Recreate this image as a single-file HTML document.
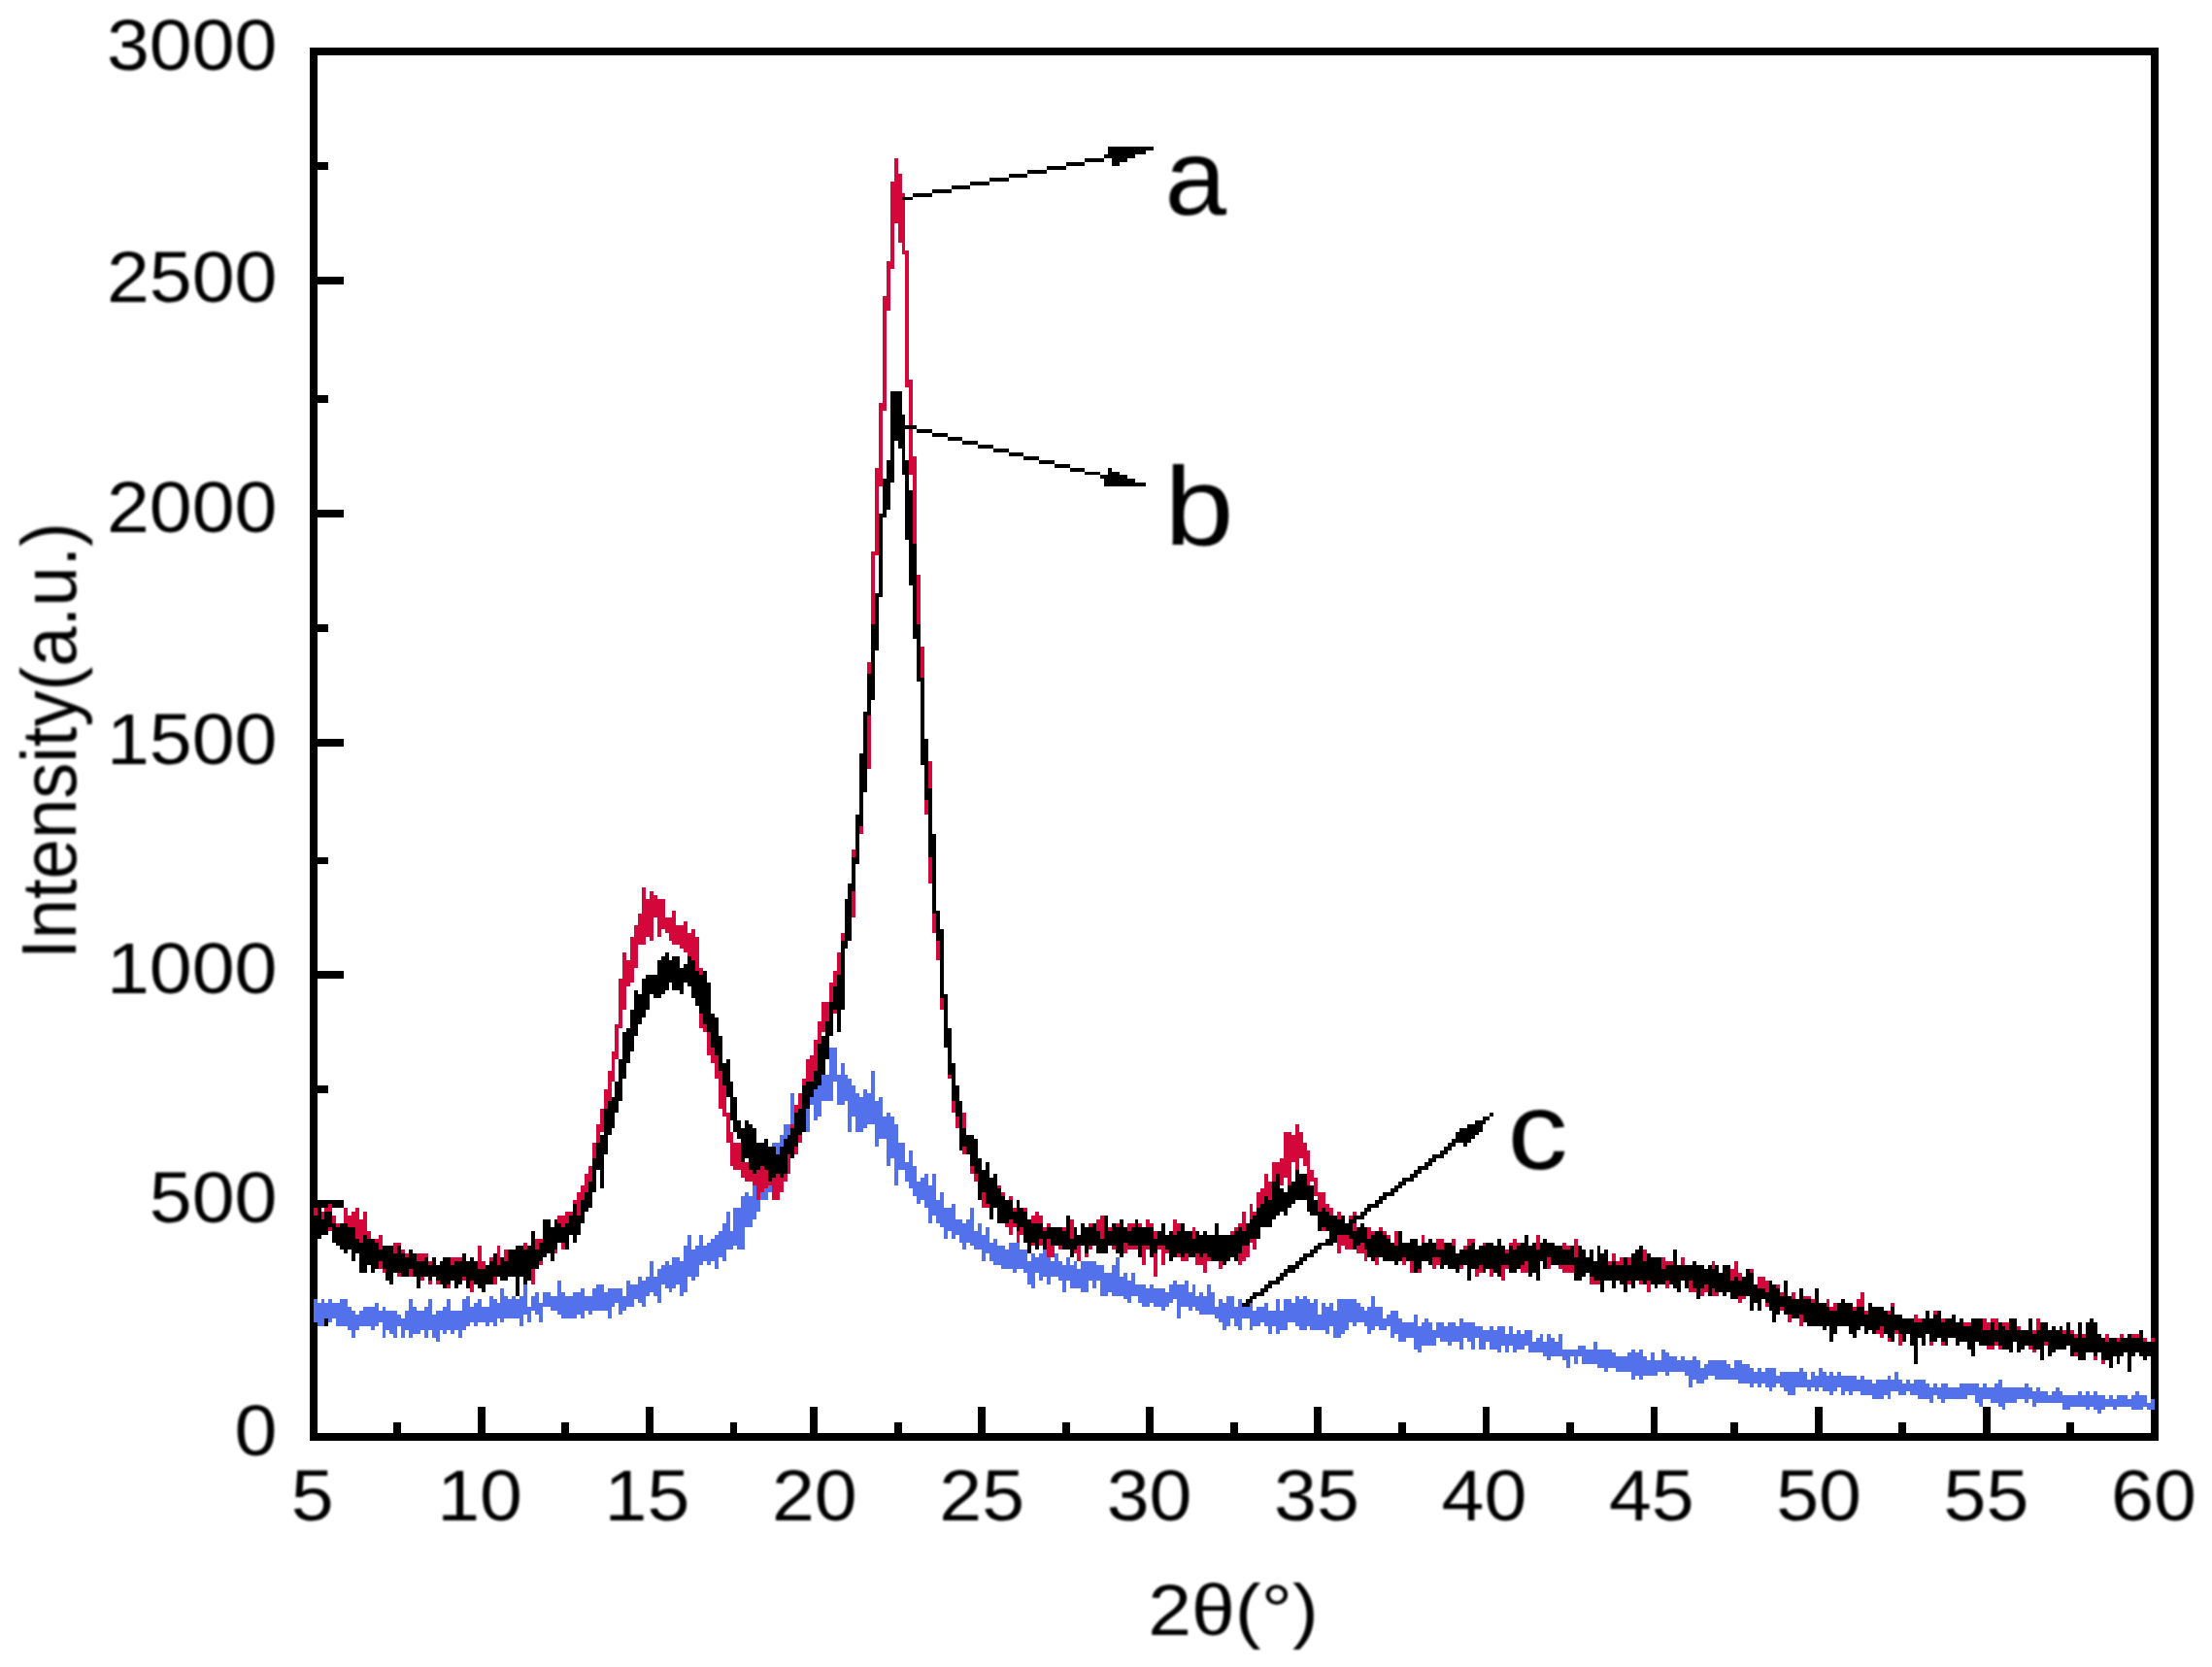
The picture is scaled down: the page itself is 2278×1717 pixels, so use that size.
<!DOCTYPE html>
<html lang="en"><head><meta charset="utf-8"><title>XRD patterns</title>
<style>
html,body{margin:0;padding:0;background:#fff;}
body{width:2278px;height:1717px;overflow:hidden;}
svg{display:block;}
</style></head><body>
<svg width="2278" height="1717" viewBox="0 0 2278 1717">
<defs><filter id="soft" x="-5%" y="-5%" width="110%" height="110%"><feGaussianBlur stdDeviation="0.8"/></filter></defs>
<rect width="2278" height="1717" fill="#fff"/>
<g shape-rendering="crispEdges">
<path d="M318.76 49.27H2222.8V1483.9H318.76Z M326.63 57.13V1476.04H2214.95V57.13Z" fill="#000" fill-rule="evenodd"/>
<path d="M405.31 1464.7h7.87V1480.0h-7.87zM491.86 1448.9h7.87V1480.0h-7.87zM578.41 1464.7h7.87V1480.0h-7.87zM664.96 1448.9h7.87V1480.0h-7.87zM751.50 1464.7h7.87V1480.0h-7.87zM834.12 1448.9h7.87V1480.0h-7.87zM920.67 1464.7h7.87V1480.0h-7.87zM1007.21 1448.9h7.87V1480.0h-7.87zM1093.76 1464.7h7.87V1480.0h-7.87zM1180.31 1448.9h7.87V1480.0h-7.87zM1266.86 1464.7h7.87V1480.0h-7.87zM1353.41 1448.9h7.87V1480.0h-7.87zM1439.95 1464.7h7.87V1480.0h-7.87zM1526.50 1448.9h7.87V1480.0h-7.87zM1613.05 1464.7h7.87V1480.0h-7.87zM1699.60 1448.9h7.87V1480.0h-7.87zM1782.21 1464.7h7.87V1480.0h-7.87zM1868.76 1448.9h7.87V1480.0h-7.87zM1955.31 1464.7h7.87V1480.0h-7.87zM2041.86 1448.9h7.87V1480.0h-7.87zM2128.40 1464.7h7.87V1480.0h-7.87zM322.7 1358.12H338.4v7.86H322.7zM322.7 1236.28H354.2v7.86H322.7zM322.7 1118.36H338.4v7.86H322.7zM322.7 1000.45H354.2v7.86H322.7zM322.7 882.53H338.4v7.86H322.7zM322.7 760.69H354.2v7.86H322.7zM322.7 642.77H338.4v7.86H322.7zM322.7 524.86H354.2v7.86H322.7zM322.7 406.94H338.4v7.86H322.7zM322.7 285.10H354.2v7.86H322.7zM322.7 167.18H338.4v7.86H322.7z" fill="#000"/>
<path d="M323 1338h4v24h-4zM327 1342h4v24h-4zM331 1338h3v28h-3zM334 1342h4v16h-4zM338 1338h4v24h-4zM342 1342h4v16h-4zM346 1342h4v24h-4zM350 1338h4v28h-4zM354 1338h4v28h-4zM358 1346h4v24h-4zM362 1350h4v28h-4zM366 1354h4v16h-4zM370 1350h4v16h-4zM374 1346h4v20h-4zM378 1346h4v20h-4zM382 1346h4v24h-4zM386 1342h4v24h-4zM390 1350h4v12h-4zM394 1346h3v32h-3zM397 1350h4v20h-4zM401 1350h4v24h-4zM405 1350h4v28h-4zM409 1354h4v12h-4zM413 1358h4v20h-4zM417 1350h4v20h-4zM421 1338h4v40h-4zM425 1346h4v28h-4zM429 1350h4v24h-4zM433 1350h4v20h-4zM437 1346h4v32h-4zM441 1338h4v32h-4zM445 1354h4v24h-4zM449 1350h4v32h-4zM453 1350h3v20h-3zM456 1346h4v28h-4zM460 1338h4v32h-4zM464 1350h4v24h-4zM468 1350h4v20h-4zM472 1350h4v28h-4zM476 1338h4v32h-4zM480 1335h4v31h-4zM484 1346h4v16h-4zM488 1342h4v24h-4zM492 1338h4v24h-4zM496 1346h4v16h-4zM500 1346h4v20h-4zM504 1335h4v27h-4zM508 1338h4v28h-4zM512 1342h3v16h-3zM515 1327h4v35h-4zM519 1335h4v23h-4zM523 1338h4v20h-4zM527 1335h4v23h-4zM531 1338h4v20h-4zM535 1335h4v31h-4zM539 1323h4v31h-4zM543 1346h4v16h-4zM547 1335h4v15h-4zM551 1331h4v23h-4zM555 1342h4v20h-4zM559 1331h4v15h-4zM563 1331h4v15h-4zM567 1335h4v15h-4zM571 1335h3v15h-3zM574 1319h4v35h-4zM578 1331h4v27h-4zM582 1335h4v23h-4zM586 1335h4v23h-4zM590 1331h4v27h-4zM594 1331h4v23h-4zM598 1327h4v31h-4zM602 1335h4v15h-4zM606 1335h4v19h-4zM610 1327h4v23h-4zM614 1323h4v27h-4zM618 1323h4v27h-4zM622 1331h4v19h-4zM626 1327h4v31h-4zM630 1327h3v19h-3zM633 1327h4v15h-4zM637 1327h4v27h-4zM641 1335h4v15h-4zM645 1319h4v27h-4zM649 1323h4v23h-4zM653 1323h4v15h-4zM657 1315h4v27h-4zM661 1319h4v27h-4zM665 1315h4v20h-4zM669 1299h4v32h-4zM673 1315h4v20h-4zM677 1307h4v35h-4zM681 1303h4v20h-4zM685 1299h4v28h-4zM689 1303h3v28h-3zM692 1295h4v32h-4zM696 1295h4v28h-4zM700 1299h4v36h-4zM704 1283h4v48h-4zM708 1272h4v43h-4zM712 1287h4v32h-4zM716 1283h4v32h-4zM720 1272h4v31h-4zM724 1283h4v16h-4zM728 1280h4v23h-4zM732 1276h4v23h-4zM736 1272h4v35h-4zM740 1268h4v27h-4zM744 1260h4v39h-4zM748 1248h4v39h-4zM752 1268h3v19h-3zM755 1244h4v39h-4zM759 1244h4v43h-4zM763 1232h4v55h-4zM767 1228h4v36h-4zM771 1232h4v32h-4zM775 1221h4v35h-4zM779 1209h4v39h-4zM783 1213h4v23h-4zM787 1209h4v27h-4zM791 1193h4v35h-4zM795 1177h4v32h-4zM799 1177h4v28h-4zM803 1169h4v32h-4zM807 1158h4v47h-4zM811 1158h3v19h-3zM814 1126h4v55h-4zM818 1138h4v39h-4zM822 1134h4v35h-4zM826 1126h4v40h-4zM830 1126h4v40h-4zM834 1114h4v24h-4zM838 1114h4v40h-4zM842 1114h4v36h-4zM846 1095h4v39h-4zM850 1107h4v27h-4zM854 1079h4v55h-4zM858 1079h4v35h-4zM862 1107h4v31h-4zM866 1095h4v43h-4zM870 1107h3v27h-3zM873 1111h4v55h-4zM877 1118h4v32h-4zM881 1126h4v40h-4zM885 1130h4v36h-4zM889 1122h4v40h-4zM893 1126h4v32h-4zM897 1103h4v55h-4zM901 1134h4v47h-4zM905 1130h4v43h-4zM909 1150h4v23h-4zM913 1146h4v55h-4zM917 1150h4v43h-4zM921 1158h4v63h-4zM925 1177h4v28h-4zM929 1177h3v28h-3zM932 1197h4v20h-4zM936 1185h4v39h-4zM940 1201h4v31h-4zM944 1217h4v23h-4zM948 1213h4v23h-4zM952 1209h4v35h-4zM956 1221h4v39h-4zM960 1209h4v43h-4zM964 1236h4v24h-4zM968 1228h4v36h-4zM972 1244h4v32h-4zM976 1244h4v24h-4zM980 1240h4v36h-4zM984 1256h4v16h-4zM988 1256h3v24h-3zM991 1260h4v27h-4zM995 1256h4v24h-4zM999 1244h4v39h-4zM1003 1268h4v19h-4zM1007 1260h4v27h-4zM1011 1272h4v27h-4zM1015 1264h4v27h-4zM1019 1280h4v19h-4zM1023 1276h4v27h-4zM1027 1283h4v20h-4zM1031 1283h4v24h-4zM1035 1287h4v20h-4zM1039 1280h4v27h-4zM1043 1280h4v31h-4zM1047 1280h3v27h-3zM1050 1287h4v20h-4zM1054 1287h4v24h-4zM1058 1299h4v24h-4zM1062 1291h4v36h-4zM1066 1295h4v16h-4zM1070 1291h4v28h-4zM1074 1287h4v28h-4zM1078 1287h4v36h-4zM1082 1299h4v16h-4zM1086 1291h4v24h-4zM1090 1299h4v20h-4zM1094 1303h4v28h-4zM1098 1295h4v24h-4zM1102 1303h4v24h-4zM1106 1299h3v28h-3zM1109 1307h4v20h-4zM1113 1299h4v32h-4zM1117 1299h4v32h-4zM1121 1299h4v20h-4zM1125 1299h4v28h-4zM1129 1303h4v16h-4zM1133 1303h4v32h-4zM1137 1311h4v24h-4zM1141 1311h4v20h-4zM1145 1303h4v32h-4zM1149 1295h4v40h-4zM1153 1315h4v20h-4zM1157 1311h4v27h-4zM1161 1319h4v23h-4zM1165 1311h4v24h-4zM1169 1323h3v12h-3zM1172 1323h4v19h-4zM1176 1323h4v23h-4zM1180 1327h4v19h-4zM1184 1323h4v19h-4zM1188 1327h4v19h-4zM1192 1327h4v19h-4zM1196 1327h4v23h-4zM1200 1331h4v15h-4zM1204 1323h4v19h-4zM1208 1319h4v19h-4zM1212 1323h4v35h-4zM1216 1323h4v23h-4zM1220 1319h4v27h-4zM1224 1331h4v19h-4zM1228 1323h3v23h-3zM1231 1335h4v15h-4zM1235 1331h4v23h-4zM1239 1335h4v19h-4zM1243 1323h4v31h-4zM1247 1331h4v23h-4zM1251 1346h4v12h-4zM1255 1338h4v24h-4zM1259 1342h4v28h-4zM1263 1335h4v31h-4zM1267 1335h4v23h-4zM1271 1346h4v20h-4zM1275 1338h4v32h-4zM1279 1342h4v16h-4zM1283 1338h4v20h-4zM1287 1342h3v28h-3zM1290 1350h4v16h-4zM1294 1346h4v20h-4zM1298 1346h4v16h-4zM1302 1342h4v24h-4zM1306 1350h4v24h-4zM1310 1350h4v16h-4zM1314 1338h4v36h-4zM1318 1350h4v20h-4zM1322 1338h4v32h-4zM1326 1338h4v24h-4zM1330 1342h4v20h-4zM1334 1335h4v31h-4zM1338 1338h4v32h-4zM1342 1335h4v35h-4zM1346 1338h3v28h-3zM1349 1342h4v28h-4zM1353 1338h4v32h-4zM1357 1354h4v16h-4zM1361 1342h4v28h-4zM1365 1346h4v28h-4zM1369 1342h4v24h-4zM1373 1350h4v28h-4zM1377 1338h4v40h-4zM1381 1338h4v36h-4zM1385 1338h4v32h-4zM1389 1338h4v24h-4zM1393 1338h4v28h-4zM1397 1342h4v20h-4zM1401 1346h4v16h-4zM1405 1350h3v16h-3zM1408 1346h4v28h-4zM1412 1335h4v35h-4zM1416 1346h4v20h-4zM1420 1346h4v24h-4zM1424 1358h4v12h-4zM1428 1354h4v12h-4zM1432 1350h4v28h-4zM1436 1350h4v24h-4zM1440 1358h4v24h-4zM1444 1362h4v20h-4zM1448 1362h4v16h-4zM1452 1362h4v16h-4zM1456 1354h4v36h-4zM1460 1366h4v27h-4zM1464 1362h3v24h-3zM1467 1358h4v28h-4zM1471 1362h4v24h-4zM1475 1370h4v16h-4zM1479 1362h4v16h-4zM1483 1362h4v20h-4zM1487 1366h4v16h-4zM1491 1362h4v24h-4zM1495 1362h4v20h-4zM1499 1366h4v16h-4zM1503 1358h4v32h-4zM1507 1362h4v16h-4zM1511 1362h4v20h-4zM1515 1362h4v28h-4zM1519 1366h4v12h-4zM1523 1366h4v24h-4zM1527 1370h3v20h-3zM1530 1370h4v12h-4zM1534 1366h4v24h-4zM1538 1370h4v20h-4zM1542 1366h4v27h-4zM1546 1366h4v20h-4zM1550 1374h4v19h-4zM1554 1366h4v20h-4zM1558 1374h4v19h-4zM1562 1370h4v20h-4zM1566 1374h4v16h-4zM1570 1370h4v16h-4zM1574 1370h4v23h-4zM1578 1382h4v11h-4zM1582 1378h4v15h-4zM1586 1374h3v19h-3zM1589 1382h4v15h-4zM1593 1374h4v27h-4zM1597 1378h4v19h-4zM1601 1382h4v15h-4zM1605 1374h4v23h-4zM1609 1390h4v11h-4zM1613 1390h4v19h-4zM1617 1390h4v7h-4zM1621 1390h4v15h-4zM1625 1386h4v11h-4zM1629 1386h4v19h-4zM1633 1390h4v15h-4zM1637 1390h4v15h-4zM1641 1382h4v23h-4zM1645 1390h3v19h-3zM1648 1390h4v19h-4zM1652 1390h4v23h-4zM1656 1390h4v19h-4zM1660 1393h4v16h-4zM1664 1397h4v16h-4zM1668 1397h4v16h-4zM1672 1397h4v16h-4zM1676 1393h4v20h-4zM1680 1390h4v31h-4zM1684 1393h4v24h-4zM1688 1390h4v31h-4zM1692 1397h4v20h-4zM1696 1401h4v16h-4zM1700 1393h4v24h-4zM1704 1401h3v16h-3zM1707 1401h4v12h-4zM1711 1390h4v23h-4zM1715 1393h4v24h-4zM1719 1397h4v16h-4zM1723 1397h4v16h-4zM1727 1401h4v12h-4zM1731 1397h4v16h-4zM1735 1401h4v16h-4zM1739 1401h4v28h-4zM1743 1397h4v24h-4zM1747 1401h4v24h-4zM1751 1409h4v16h-4zM1755 1405h4v16h-4zM1759 1401h4v16h-4zM1763 1401h3v16h-3zM1766 1401h4v20h-4zM1770 1401h4v20h-4zM1774 1401h4v20h-4zM1778 1405h4v16h-4zM1782 1409h4v12h-4zM1786 1401h4v20h-4zM1790 1401h4v24h-4zM1794 1405h4v20h-4zM1798 1405h4v20h-4zM1802 1409h4v20h-4zM1806 1413h4v12h-4zM1810 1409h4v20h-4zM1814 1413h4v12h-4zM1818 1409h4v20h-4zM1822 1409h3v24h-3zM1825 1409h4v20h-4zM1829 1417h4v8h-4zM1833 1413h4v16h-4zM1837 1413h4v20h-4zM1841 1413h4v24h-4zM1845 1413h4v24h-4zM1849 1413h4v16h-4zM1853 1409h4v20h-4zM1857 1413h4v16h-4zM1861 1421h4v12h-4zM1865 1413h4v16h-4zM1869 1417h4v16h-4zM1873 1409h4v20h-4zM1877 1413h4v20h-4zM1881 1417h3v16h-3zM1884 1413h4v24h-4zM1888 1417h4v16h-4zM1892 1413h4v16h-4zM1896 1417h4v20h-4zM1900 1417h4v16h-4zM1904 1417h4v20h-4zM1908 1417h4v16h-4zM1912 1421h4v12h-4zM1916 1417h4v20h-4zM1920 1421h4v16h-4zM1924 1421h4v16h-4zM1928 1425h4v16h-4zM1932 1421h4v20h-4zM1936 1421h4v20h-4zM1940 1421h4v16h-4zM1944 1417h3v24h-3zM1947 1421h4v12h-4zM1951 1413h4v20h-4zM1955 1421h4v16h-4zM1959 1425h4v12h-4zM1963 1421h4v12h-4zM1967 1425h4v12h-4zM1971 1421h4v16h-4zM1975 1421h4v20h-4zM1979 1421h4v20h-4zM1983 1425h4v16h-4zM1987 1429h4v16h-4zM1991 1425h4v12h-4zM1995 1429h4v12h-4zM1999 1425h4v20h-4zM2003 1425h3v16h-3zM2006 1429h4v12h-4zM2010 1429h4v12h-4zM2014 1429h4v12h-4zM2018 1425h4v16h-4zM2022 1425h4v16h-4zM2026 1425h4v12h-4zM2030 1425h4v12h-4zM2034 1425h4v20h-4zM2038 1429h4v20h-4zM2042 1425h4v16h-4zM2046 1429h4v12h-4zM2050 1429h4v16h-4zM2054 1425h4v20h-4zM2058 1421h4v28h-4zM2062 1429h3v23h-3zM2065 1429h4v16h-4zM2069 1429h4v16h-4zM2073 1429h4v16h-4zM2077 1429h4v12h-4zM2081 1429h4v12h-4zM2085 1425h4v20h-4zM2089 1429h4v12h-4zM2093 1433h4v16h-4zM2097 1429h4v16h-4zM2101 1433h4v12h-4zM2105 1433h4v12h-4zM2109 1437h4v8h-4zM2113 1433h4v12h-4zM2117 1429h4v16h-4zM2121 1433h3v12h-3zM2124 1437h4v15h-4zM2128 1437h4v15h-4zM2132 1437h4v12h-4zM2136 1437h4v12h-4zM2140 1433h4v16h-4zM2144 1437h4v12h-4zM2148 1433h4v19h-4zM2152 1437h4v12h-4zM2156 1433h4v19h-4zM2160 1437h4v19h-4zM2164 1437h4v15h-4zM2168 1441h4v8h-4zM2172 1437h4v12h-4zM2176 1441h4v11h-4zM2180 1437h3v12h-3zM2183 1437h4v12h-4zM2187 1437h4v12h-4zM2191 1441h4v8h-4zM2195 1437h4v15h-4zM2199 1433h4v19h-4zM2203 1437h4v15h-4zM2207 1437h4v12h-4zM2211 1445h4v7h-4zM2215 1441h4v11h-4z" fill="#5271ea"/>
<path d="M323 1244h4v16h-4zM327 1252h4v20h-4zM331 1248h3v20h-3zM334 1244h4v24h-4zM338 1240h4v28h-4zM342 1252h4v28h-4zM346 1260h4v20h-4zM350 1260h4v27h-4zM354 1244h4v47h-4zM358 1252h4v24h-4zM362 1248h4v35h-4zM366 1244h4v47h-4zM370 1256h4v31h-4zM374 1248h4v39h-4zM378 1268h4v23h-4zM382 1280h4v19h-4zM386 1276h4v23h-4zM390 1272h4v35h-4zM394 1283h3v28h-3zM397 1283h4v20h-4zM401 1283h4v24h-4zM405 1280h4v23h-4zM409 1280h4v35h-4zM413 1287h4v28h-4zM417 1291h4v20h-4zM421 1291h4v24h-4zM425 1295h4v16h-4zM429 1291h4v28h-4zM433 1291h4v28h-4zM437 1291h4v24h-4zM441 1299h4v24h-4zM445 1303h4v12h-4zM449 1307h4v16h-4zM453 1299h3v20h-3zM456 1307h4v16h-4zM460 1299h4v28h-4zM464 1295h4v24h-4zM468 1295h4v24h-4zM472 1295h4v20h-4zM476 1303h4v16h-4zM480 1303h4v24h-4zM484 1299h4v32h-4zM488 1303h4v20h-4zM492 1283h4v36h-4zM496 1299h4v24h-4zM500 1307h4v12h-4zM504 1295h4v24h-4zM508 1295h4v28h-4zM512 1283h3v32h-3zM515 1295h4v20h-4zM519 1287h4v32h-4zM523 1299h4v16h-4zM527 1295h4v20h-4zM531 1291h4v20h-4zM535 1287h4v20h-4zM539 1280h4v23h-4zM543 1283h4v24h-4zM547 1280h4v43h-4zM551 1276h4v23h-4zM555 1276h4v27h-4zM559 1268h4v27h-4zM563 1272h4v19h-4zM567 1272h4v11h-4zM571 1256h3v35h-3zM574 1252h4v28h-4zM578 1252h4v35h-4zM582 1248h4v16h-4zM586 1248h4v24h-4zM590 1236h4v28h-4zM594 1228h4v32h-4zM598 1221h4v27h-4zM602 1209h4v31h-4zM606 1201h4v35h-4zM610 1177h4v47h-4zM614 1158h4v39h-4zM618 1142h4v24h-4zM622 1122h4v32h-4zM626 1103h4v51h-4zM630 1083h3v31h-3zM633 1055h4v36h-4zM637 1008h4v51h-4zM641 981h4v59h-4zM645 989h4v27h-4zM649 965h4v47h-4zM653 953h4v44h-4zM657 941h4v32h-4zM661 914h4v59h-4zM665 926h4v39h-4zM669 918h4v51h-4zM673 922h4v23h-4zM677 926h4v39h-4zM681 926h4v31h-4zM685 945h4v16h-4zM689 945h3v24h-3zM692 938h4v35h-4zM696 953h4v20h-4zM700 953h4v24h-4zM704 949h4v32h-4zM708 961h4v24h-4zM712 957h4v43h-4zM716 965h4v47h-4zM720 997h4v62h-4zM724 1032h4v31h-4zM728 1055h4v32h-4zM732 1067h4v28h-4zM736 1067h4v44h-4zM740 1095h4v47h-4zM744 1114h4v36h-4zM748 1146h4v31h-4zM752 1166h3v35h-3zM755 1177h4v28h-4zM759 1177h4v28h-4zM763 1177h4v36h-4zM767 1197h4v20h-4zM771 1189h4v28h-4zM775 1197h4v24h-4zM779 1205h4v31h-4zM783 1201h4v27h-4zM787 1197h4v27h-4zM791 1205h4v16h-4zM795 1201h4v35h-4zM799 1193h4v43h-4zM803 1197h4v31h-4zM807 1193h4v24h-4zM811 1169h3v40h-3zM814 1158h4v35h-4zM818 1138h4v51h-4zM822 1126h4v51h-4zM826 1111h4v27h-4zM830 1091h4v39h-4zM834 1087h4v35h-4zM838 1071h4v36h-4zM842 1052h4v39h-4zM846 1032h4v31h-4zM850 1032h4v31h-4zM854 1012h4v47h-4zM858 1000h4v44h-4zM862 981h4v39h-4zM866 961h4v51h-4zM870 938h3v39h-3zM873 934h4v35h-4zM877 875h4v70h-4zM881 843h4v47h-4zM885 804h4v55h-4zM889 765h4v47h-4zM893 682h4v110h-4zM897 568h4v118h-4zM901 482h4v90h-4zM905 415h4v86h-4zM909 305h4v118h-4zM913 269h4v51h-4zM917 187h4v90h-4zM921 163h4v67h-4zM925 179h4v71h-4zM929 199h3v63h-3zM932 258h4v141h-4zM936 391h4v98h-4zM940 470h4v133h-4zM944 592h4v110h-4zM948 666h4v99h-4zM952 761h4v78h-4zM956 784h4v126h-4zM960 894h4v67h-4zM964 941h4v48h-4zM968 981h4v59h-4zM972 1028h4v47h-4zM976 1067h4v44h-4zM980 1107h4v39h-4zM984 1122h4v40h-4zM988 1158h3v15h-3zM991 1146h4v43h-4zM995 1173h4v16h-4zM999 1177h4v32h-4zM1003 1197h4v20h-4zM1007 1201h4v23h-4zM1011 1209h4v35h-4zM1015 1217h4v27h-4zM1019 1213h4v19h-4zM1023 1224h4v20h-4zM1027 1221h4v39h-4zM1031 1228h4v24h-4zM1035 1240h4v24h-4zM1039 1232h4v40h-4zM1043 1244h4v20h-4zM1047 1248h3v32h-3zM1050 1252h4v20h-4zM1054 1244h4v28h-4zM1058 1256h4v27h-4zM1062 1252h4v31h-4zM1066 1248h4v28h-4zM1070 1252h4v31h-4zM1074 1264h4v16h-4zM1078 1260h4v35h-4zM1082 1264h4v31h-4zM1086 1264h4v19h-4zM1090 1264h4v23h-4zM1094 1264h4v23h-4zM1098 1268h4v19h-4zM1102 1256h4v31h-4zM1106 1264h3v27h-3zM1109 1276h4v23h-4zM1113 1264h4v19h-4zM1117 1264h4v31h-4zM1121 1260h4v27h-4zM1125 1260h4v20h-4zM1129 1256h4v24h-4zM1133 1252h4v39h-4zM1137 1256h4v20h-4zM1141 1264h4v19h-4zM1145 1272h4v15h-4zM1149 1260h4v23h-4zM1153 1260h4v23h-4zM1157 1268h4v23h-4zM1161 1260h4v27h-4zM1165 1260h4v27h-4zM1169 1268h3v19h-3zM1172 1260h4v27h-4zM1176 1268h4v35h-4zM1180 1256h4v31h-4zM1184 1260h4v31h-4zM1188 1268h4v47h-4zM1192 1268h4v19h-4zM1196 1272h4v31h-4zM1200 1276h4v15h-4zM1204 1272h4v19h-4zM1208 1256h4v39h-4zM1212 1260h4v35h-4zM1216 1280h4v19h-4zM1220 1268h4v31h-4zM1224 1272h4v23h-4zM1228 1264h3v31h-3zM1231 1276h4v27h-4zM1235 1272h4v31h-4zM1239 1280h4v31h-4zM1243 1276h4v23h-4zM1247 1276h4v19h-4zM1251 1272h4v19h-4zM1255 1276h4v31h-4zM1259 1276h4v27h-4zM1263 1276h4v15h-4zM1267 1268h4v23h-4zM1271 1264h4v35h-4zM1275 1260h4v43h-4zM1279 1248h4v51h-4zM1283 1260h4v35h-4zM1287 1240h3v40h-3zM1290 1248h4v39h-4zM1294 1228h4v32h-4zM1298 1224h4v28h-4zM1302 1209h4v43h-4zM1306 1217h4v27h-4zM1310 1197h4v31h-4zM1314 1197h4v20h-4zM1318 1193h4v28h-4zM1322 1166h4v47h-4zM1326 1166h4v55h-4zM1330 1169h4v28h-4zM1334 1158h4v47h-4zM1338 1166h4v27h-4zM1342 1177h4v24h-4zM1346 1185h3v47h-3zM1349 1205h4v12h-4zM1353 1213h4v19h-4zM1357 1228h4v24h-4zM1361 1228h4v40h-4zM1365 1240h4v20h-4zM1369 1244h4v20h-4zM1373 1256h4v24h-4zM1377 1248h4v43h-4zM1381 1256h4v27h-4zM1385 1260h4v27h-4zM1389 1252h4v35h-4zM1393 1248h4v39h-4zM1397 1264h4v27h-4zM1401 1268h4v23h-4zM1405 1268h3v31h-3zM1408 1264h4v23h-4zM1412 1268h4v27h-4zM1416 1280h4v23h-4zM1420 1264h4v27h-4zM1424 1268h4v19h-4zM1428 1272h4v27h-4zM1432 1280h4v15h-4zM1436 1268h4v27h-4zM1440 1280h4v11h-4zM1444 1280h4v23h-4zM1448 1280h4v19h-4zM1452 1280h4v31h-4zM1456 1283h4v24h-4zM1460 1283h4v28h-4zM1464 1272h3v27h-3zM1467 1280h4v19h-4zM1471 1280h4v15h-4zM1475 1283h4v24h-4zM1479 1276h4v27h-4zM1483 1276h4v23h-4zM1487 1280h4v11h-4zM1491 1283h4v16h-4zM1495 1276h4v31h-4zM1499 1295h4v12h-4zM1503 1287h4v20h-4zM1507 1283h4v20h-4zM1511 1276h4v27h-4zM1515 1276h4v27h-4zM1519 1287h4v28h-4zM1523 1287h4v24h-4zM1527 1280h3v27h-3zM1530 1283h4v24h-4zM1534 1291h4v24h-4zM1538 1283h4v28h-4zM1542 1287h4v20h-4zM1546 1283h4v36h-4zM1550 1287h4v20h-4zM1554 1280h4v27h-4zM1558 1276h4v27h-4zM1562 1280h4v27h-4zM1566 1287h4v24h-4zM1570 1283h4v28h-4zM1574 1283h4v28h-4zM1578 1280h4v23h-4zM1582 1272h4v27h-4zM1586 1280h3v19h-3zM1589 1280h4v15h-4zM1593 1280h4v27h-4zM1597 1287h4v16h-4zM1601 1291h4v8h-4zM1605 1283h4v24h-4zM1609 1280h4v31h-4zM1613 1283h4v28h-4zM1617 1283h4v28h-4zM1621 1276h4v27h-4zM1625 1283h4v28h-4zM1629 1295h4v16h-4zM1633 1295h4v16h-4zM1637 1295h4v28h-4zM1641 1303h4v20h-4zM1645 1303h3v20h-3zM1648 1295h4v28h-4zM1652 1295h4v24h-4zM1656 1299h4v12h-4zM1660 1291h4v32h-4zM1664 1299h4v16h-4zM1668 1295h4v20h-4zM1672 1299h4v24h-4zM1676 1295h4v28h-4zM1680 1295h4v20h-4zM1684 1299h4v20h-4zM1688 1295h4v28h-4zM1692 1287h4v36h-4zM1696 1291h4v40h-4zM1700 1295h4v16h-4zM1704 1295h3v20h-3zM1707 1295h4v20h-4zM1711 1295h4v28h-4zM1715 1299h4v28h-4zM1719 1299h4v24h-4zM1723 1291h4v32h-4zM1727 1307h4v24h-4zM1731 1295h4v24h-4zM1735 1311h4v16h-4zM1739 1303h4v28h-4zM1743 1303h4v28h-4zM1747 1303h4v16h-4zM1751 1303h4v32h-4zM1755 1307h4v24h-4zM1759 1307h4v28h-4zM1763 1299h3v36h-3zM1766 1311h4v24h-4zM1770 1315h4v16h-4zM1774 1307h4v24h-4zM1778 1311h4v16h-4zM1782 1307h4v24h-4zM1786 1299h4v32h-4zM1790 1311h4v31h-4zM1794 1315h4v23h-4zM1798 1315h4v20h-4zM1802 1307h4v31h-4zM1806 1331h4v11h-4zM1810 1315h4v31h-4zM1814 1315h4v23h-4zM1818 1319h4v27h-4zM1822 1323h3v12h-3zM1825 1323h4v27h-4zM1829 1323h4v19h-4zM1833 1331h4v19h-4zM1837 1331h4v19h-4zM1841 1335h4v27h-4zM1845 1331h4v27h-4zM1849 1338h4v16h-4zM1853 1331h4v35h-4zM1857 1335h4v27h-4zM1861 1335h4v15h-4zM1865 1338h4v28h-4zM1869 1342h4v24h-4zM1873 1342h4v20h-4zM1877 1342h4v20h-4zM1881 1338h3v28h-3zM1884 1346h4v20h-4zM1888 1342h4v16h-4zM1892 1346h4v16h-4zM1896 1342h4v24h-4zM1900 1342h4v16h-4zM1904 1346h4v20h-4zM1908 1346h4v20h-4zM1912 1338h4v20h-4zM1916 1331h4v35h-4zM1920 1350h4v8h-4zM1924 1350h4v16h-4zM1928 1354h4v12h-4zM1932 1354h4v20h-4zM1936 1350h4v28h-4zM1940 1350h4v16h-4zM1944 1350h3v32h-3zM1947 1342h4v36h-4zM1951 1362h4v12h-4zM1955 1354h4v32h-4zM1959 1358h4v24h-4zM1963 1362h4v12h-4zM1967 1358h4v16h-4zM1971 1354h4v20h-4zM1975 1358h4v16h-4zM1979 1362h4v12h-4zM1983 1362h4v12h-4zM1987 1358h4v28h-4zM1991 1350h4v32h-4zM1995 1362h4v12h-4zM1999 1358h4v28h-4zM2003 1370h3v12h-3zM2006 1358h4v16h-4zM2010 1358h4v20h-4zM2014 1362h4v24h-4zM2018 1366h4v16h-4zM2022 1362h4v16h-4zM2026 1362h4v16h-4zM2030 1370h4v12h-4zM2034 1370h4v12h-4zM2038 1374h4v8h-4zM2042 1358h4v28h-4zM2046 1362h4v28h-4zM2050 1358h4v32h-4zM2054 1358h4v28h-4zM2058 1362h4v28h-4zM2062 1362h3v20h-3zM2065 1362h4v28h-4zM2069 1366h4v16h-4zM2073 1366h4v16h-4zM2077 1366h4v20h-4zM2081 1370h4v16h-4zM2085 1370h4v16h-4zM2089 1374h4v16h-4zM2093 1370h4v23h-4zM2097 1358h4v28h-4zM2101 1378h4v12h-4zM2105 1370h4v16h-4zM2109 1370h4v16h-4zM2113 1370h4v23h-4zM2117 1370h4v16h-4zM2121 1374h3v16h-3zM2124 1370h4v16h-4zM2128 1370h4v16h-4zM2132 1370h4v20h-4zM2136 1374h4v23h-4zM2140 1370h4v27h-4zM2144 1374h4v19h-4zM2148 1378h4v15h-4zM2152 1386h4v7h-4zM2156 1378h4v23h-4zM2160 1374h4v19h-4zM2164 1378h4v27h-4zM2168 1374h4v19h-4zM2172 1378h4v8h-4zM2176 1378h4v15h-4zM2180 1378h3v23h-3zM2183 1374h4v19h-4zM2187 1378h4v15h-4zM2191 1378h4v19h-4zM2195 1374h4v16h-4zM2199 1374h4v19h-4zM2203 1374h4v23h-4zM2207 1378h4v19h-4zM2211 1382h4v15h-4zM2215 1378h4v15h-4z" fill="#d4073a"/>
<path d="M323 1252h4v20h-4zM327 1240h4v36h-4zM331 1256h3v16h-3zM334 1248h4v24h-4zM338 1248h4v16h-4zM342 1260h4v20h-4zM346 1264h4v19h-4zM350 1260h4v27h-4zM354 1260h4v31h-4zM358 1264h4v23h-4zM362 1264h4v35h-4zM366 1276h4v15h-4zM370 1280h4v31h-4zM374 1272h4v39h-4zM378 1276h4v27h-4zM382 1276h4v35h-4zM386 1280h4v27h-4zM390 1287h4v12h-4zM394 1283h3v24h-3zM397 1283h4v36h-4zM401 1283h4v40h-4zM405 1291h4v20h-4zM409 1283h4v28h-4zM413 1291h4v24h-4zM417 1295h4v20h-4zM421 1287h4v20h-4zM425 1291h4v24h-4zM429 1299h4v28h-4zM433 1299h4v16h-4zM437 1295h4v20h-4zM441 1303h4v16h-4zM445 1295h4v20h-4zM449 1303h4v16h-4zM453 1299h3v24h-3zM456 1295h4v32h-4zM460 1295h4v28h-4zM464 1303h4v16h-4zM468 1299h4v28h-4zM472 1299h4v24h-4zM476 1291h4v24h-4zM480 1299h4v28h-4zM484 1295h4v24h-4zM488 1299h4v24h-4zM492 1307h4v20h-4zM496 1307h4v24h-4zM500 1303h4v20h-4zM504 1299h4v24h-4zM508 1291h4v24h-4zM512 1303h3v12h-3zM515 1295h4v24h-4zM519 1299h4v20h-4zM523 1287h4v28h-4zM527 1287h4v28h-4zM531 1283h4v52h-4zM535 1283h4v32h-4zM539 1287h4v36h-4zM543 1283h4v36h-4zM547 1268h4v39h-4zM551 1287h4v20h-4zM555 1280h4v19h-4zM559 1256h4v39h-4zM563 1256h4v35h-4zM567 1264h4v35h-4zM571 1256h3v31h-3zM574 1260h4v20h-4zM578 1264h4v16h-4zM582 1260h4v27h-4zM586 1252h4v20h-4zM590 1240h4v40h-4zM594 1252h4v20h-4zM598 1236h4v24h-4zM602 1228h4v20h-4zM606 1217h4v27h-4zM610 1193h4v35h-4zM614 1177h4v28h-4zM618 1169h4v55h-4zM622 1142h4v47h-4zM626 1134h4v35h-4zM630 1130h3v32h-3zM633 1114h4v32h-4zM637 1091h4v43h-4zM641 1063h4v48h-4zM645 1059h4v36h-4zM649 1040h4v43h-4zM653 1020h4v47h-4zM657 1024h4v31h-4zM661 1008h4v40h-4zM665 1004h4v36h-4zM669 1004h4v20h-4zM673 1004h4v24h-4zM677 989h4v39h-4zM681 985h4v39h-4zM685 981h4v39h-4zM689 989h3v23h-3zM692 985h4v35h-4zM696 985h4v35h-4zM700 997h4v27h-4zM704 993h4v19h-4zM708 985h4v31h-4zM712 989h4v39h-4zM716 1000h4v36h-4zM720 1004h4v40h-4zM724 1000h4v55h-4zM728 1012h4v51h-4zM732 1044h4v35h-4zM736 1048h4v39h-4zM740 1067h4v36h-4zM744 1095h4v23h-4zM748 1091h4v39h-4zM752 1114h3v40h-3zM755 1130h4v36h-4zM759 1154h4v19h-4zM763 1162h4v35h-4zM767 1154h4v39h-4zM771 1158h4v47h-4zM775 1162h4v47h-4zM779 1177h4v28h-4zM783 1177h4v24h-4zM787 1173h4v32h-4zM791 1181h4v36h-4zM795 1181h4v32h-4zM799 1189h4v20h-4zM803 1181h4v32h-4zM807 1173h4v36h-4zM811 1169h3v20h-3zM814 1162h4v31h-4zM818 1146h4v35h-4zM822 1142h4v27h-4zM826 1118h4v48h-4zM830 1114h4v28h-4zM834 1114h4v16h-4zM838 1103h4v19h-4zM842 1075h4v43h-4zM846 1067h4v40h-4zM850 1052h4v39h-4zM854 1032h4v35h-4zM858 1016h4v24h-4zM862 1004h4v59h-4zM866 969h4v71h-4zM870 926h3v51h-3zM873 910h4v59h-4zM877 883h4v35h-4zM881 839h4v51h-4zM885 776h4v75h-4zM889 733h4v83h-4zM893 694h4v43h-4zM897 643h4v78h-4zM901 611h4v59h-4zM905 529h4v86h-4zM909 493h4v40h-4zM913 474h4v51h-4zM917 403h4v94h-4zM921 403h4v51h-4zM925 403h4v59h-4zM929 427h3v62h-3zM932 474h4v82h-4zM936 505h4v98h-4zM940 560h4v98h-4zM944 643h4v59h-4zM948 698h4v90h-4zM952 761h4v63h-4zM956 812h4v71h-4zM960 859h4v82h-4zM964 938h4v31h-4zM968 957h4v71h-4zM972 1024h4v55h-4zM976 1059h4v48h-4zM980 1095h4v39h-4zM984 1118h4v32h-4zM988 1134h3v51h-3zM991 1162h4v19h-4zM995 1169h4v20h-4zM999 1169h4v32h-4zM1003 1173h4v36h-4zM1007 1193h4v43h-4zM1011 1205h4v23h-4zM1015 1197h4v43h-4zM1019 1213h4v43h-4zM1023 1209h4v35h-4zM1027 1224h4v36h-4zM1031 1232h4v28h-4zM1035 1236h4v24h-4zM1039 1236h4v20h-4zM1043 1248h4v12h-4zM1047 1236h3v32h-3zM1050 1244h4v20h-4zM1054 1248h4v32h-4zM1058 1256h4v35h-4zM1062 1260h4v20h-4zM1066 1260h4v27h-4zM1070 1260h4v16h-4zM1074 1268h4v19h-4zM1078 1264h4v12h-4zM1082 1264h4v19h-4zM1086 1264h4v19h-4zM1090 1264h4v19h-4zM1094 1268h4v19h-4zM1098 1252h4v35h-4zM1102 1276h4v19h-4zM1106 1264h3v23h-3zM1109 1272h4v11h-4zM1113 1260h4v23h-4zM1117 1264h4v27h-4zM1121 1264h4v19h-4zM1125 1260h4v23h-4zM1129 1268h4v23h-4zM1133 1276h4v15h-4zM1137 1252h4v39h-4zM1141 1268h4v15h-4zM1145 1260h4v23h-4zM1149 1264h4v27h-4zM1153 1256h4v39h-4zM1157 1264h4v16h-4zM1161 1268h4v15h-4zM1165 1264h4v19h-4zM1169 1256h3v27h-3zM1172 1264h4v31h-4zM1176 1264h4v19h-4zM1180 1264h4v19h-4zM1184 1264h4v31h-4zM1188 1276h4v15h-4zM1192 1268h4v15h-4zM1196 1260h4v23h-4zM1200 1272h4v15h-4zM1204 1268h4v31h-4zM1208 1272h4v23h-4zM1212 1268h4v23h-4zM1216 1260h4v35h-4zM1220 1268h4v23h-4zM1224 1268h4v27h-4zM1228 1276h3v19h-3zM1231 1268h4v23h-4zM1235 1272h4v23h-4zM1239 1268h4v23h-4zM1243 1272h4v23h-4zM1247 1272h4v27h-4zM1251 1260h4v39h-4zM1255 1272h4v27h-4zM1259 1272h4v31h-4zM1263 1272h4v27h-4zM1267 1272h4v23h-4zM1271 1268h4v31h-4zM1275 1264h4v27h-4zM1279 1268h4v15h-4zM1283 1260h4v23h-4zM1287 1256h3v20h-3zM1290 1252h4v24h-4zM1294 1244h4v32h-4zM1298 1240h4v24h-4zM1302 1232h4v32h-4zM1306 1236h4v28h-4zM1310 1217h4v39h-4zM1314 1209h4v43h-4zM1318 1224h4v24h-4zM1322 1228h4v24h-4zM1326 1221h4v23h-4zM1330 1217h4v23h-4zM1334 1205h4v31h-4zM1338 1209h4v27h-4zM1342 1209h4v27h-4zM1346 1221h3v27h-3zM1349 1221h4v31h-4zM1353 1236h4v16h-4zM1357 1248h4v20h-4zM1361 1244h4v20h-4zM1365 1248h4v20h-4zM1369 1252h4v31h-4zM1373 1252h4v28h-4zM1377 1256h4v16h-4zM1381 1252h4v16h-4zM1385 1260h4v12h-4zM1389 1260h4v16h-4zM1393 1268h4v19h-4zM1397 1264h4v19h-4zM1401 1260h4v20h-4zM1405 1264h3v23h-3zM1408 1276h4v19h-4zM1412 1272h4v27h-4zM1416 1268h4v27h-4zM1420 1268h4v27h-4zM1424 1272h4v27h-4zM1428 1276h4v23h-4zM1432 1280h4v19h-4zM1436 1283h4v20h-4zM1440 1268h4v31h-4zM1444 1280h4v15h-4zM1448 1280h4v19h-4zM1452 1276h4v23h-4zM1456 1276h4v35h-4zM1460 1283h4v24h-4zM1464 1280h3v19h-3zM1467 1280h4v19h-4zM1471 1276h4v27h-4zM1475 1280h4v15h-4zM1479 1287h4v8h-4zM1483 1287h4v20h-4zM1487 1280h4v23h-4zM1491 1280h4v27h-4zM1495 1283h4v24h-4zM1499 1291h4v20h-4zM1503 1287h4v16h-4zM1507 1287h4v16h-4zM1511 1283h4v36h-4zM1515 1280h4v27h-4zM1519 1287h4v20h-4zM1523 1283h4v20h-4zM1527 1283h3v28h-3zM1530 1280h4v27h-4zM1534 1280h4v27h-4zM1538 1283h4v28h-4zM1542 1276h4v39h-4zM1546 1283h4v20h-4zM1550 1291h4v12h-4zM1554 1283h4v28h-4zM1558 1287h4v24h-4zM1562 1283h4v24h-4zM1566 1280h4v23h-4zM1570 1272h4v27h-4zM1574 1283h4v32h-4zM1578 1280h4v31h-4zM1582 1287h4v32h-4zM1586 1280h3v19h-3zM1589 1276h4v31h-4zM1593 1280h4v15h-4zM1597 1280h4v23h-4zM1601 1283h4v20h-4zM1605 1283h4v20h-4zM1609 1287h4v16h-4zM1613 1287h4v16h-4zM1617 1283h4v20h-4zM1621 1295h4v24h-4zM1625 1283h4v36h-4zM1629 1287h4v28h-4zM1633 1295h4v16h-4zM1637 1287h4v28h-4zM1641 1299h4v20h-4zM1645 1283h3v36h-3zM1648 1291h4v40h-4zM1652 1287h4v32h-4zM1656 1303h4v16h-4zM1660 1299h4v28h-4zM1664 1303h4v16h-4zM1668 1303h4v20h-4zM1672 1295h4v36h-4zM1676 1303h4v16h-4zM1680 1291h4v36h-4zM1684 1287h4v32h-4zM1688 1283h4v36h-4zM1692 1299h4v24h-4zM1696 1291h4v28h-4zM1700 1295h4v28h-4zM1704 1295h3v32h-3zM1707 1295h4v28h-4zM1711 1307h4v16h-4zM1715 1303h4v16h-4zM1719 1303h4v20h-4zM1723 1287h4v40h-4zM1727 1303h4v28h-4zM1731 1303h4v16h-4zM1735 1303h4v24h-4zM1739 1303h4v16h-4zM1743 1299h4v28h-4zM1747 1303h4v35h-4zM1751 1303h4v24h-4zM1755 1307h4v16h-4zM1759 1303h4v32h-4zM1763 1307h3v20h-3zM1766 1303h4v28h-4zM1770 1311h4v20h-4zM1774 1303h4v32h-4zM1778 1303h4v28h-4zM1782 1319h4v19h-4zM1786 1315h4v23h-4zM1790 1319h4v16h-4zM1794 1315h4v20h-4zM1798 1307h4v28h-4zM1802 1311h4v39h-4zM1806 1323h4v19h-4zM1810 1327h4v23h-4zM1814 1327h4v11h-4zM1818 1331h4v11h-4zM1822 1319h3v31h-3zM1825 1323h4v39h-4zM1829 1327h4v27h-4zM1833 1335h4v11h-4zM1837 1319h4v35h-4zM1841 1335h4v19h-4zM1845 1338h4v20h-4zM1849 1338h4v20h-4zM1853 1327h4v27h-4zM1857 1338h4v24h-4zM1861 1338h4v28h-4zM1865 1342h4v24h-4zM1869 1327h4v39h-4zM1873 1342h4v24h-4zM1877 1342h4v28h-4zM1881 1346h3v20h-3zM1884 1350h4v32h-4zM1888 1350h4v24h-4zM1892 1342h4v24h-4zM1896 1338h4v28h-4zM1900 1342h4v24h-4zM1904 1342h4v32h-4zM1908 1350h4v28h-4zM1912 1346h4v24h-4zM1916 1346h4v20h-4zM1920 1354h4v20h-4zM1924 1342h4v28h-4zM1928 1346h4v28h-4zM1932 1346h4v24h-4zM1936 1346h4v20h-4zM1940 1350h4v24h-4zM1944 1354h3v24h-3zM1947 1346h4v36h-4zM1951 1354h4v16h-4zM1955 1354h4v20h-4zM1959 1358h4v24h-4zM1963 1358h4v16h-4zM1967 1358h4v28h-4zM1971 1362h4v43h-4zM1975 1362h4v16h-4zM1979 1358h4v28h-4zM1983 1350h4v24h-4zM1987 1358h4v24h-4zM1991 1354h4v28h-4zM1995 1350h4v28h-4zM1999 1362h4v20h-4zM2003 1358h3v28h-3zM2006 1358h4v20h-4zM2010 1354h4v24h-4zM2014 1362h4v24h-4zM2018 1358h4v24h-4zM2022 1366h4v16h-4zM2026 1366h4v24h-4zM2030 1358h4v39h-4zM2034 1358h4v24h-4zM2038 1358h4v28h-4zM2042 1370h4v16h-4zM2046 1370h4v16h-4zM2050 1362h4v24h-4zM2054 1370h4v12h-4zM2058 1362h4v24h-4zM2062 1366h3v24h-3zM2065 1370h4v20h-4zM2069 1358h4v35h-4zM2073 1358h4v24h-4zM2077 1370h4v23h-4zM2081 1370h4v20h-4zM2085 1370h4v16h-4zM2089 1358h4v28h-4zM2093 1374h4v16h-4zM2097 1370h4v20h-4zM2101 1362h4v39h-4zM2105 1362h4v20h-4zM2109 1370h4v27h-4zM2113 1366h4v27h-4zM2117 1370h4v20h-4zM2121 1366h3v24h-3zM2124 1374h4v16h-4zM2128 1362h4v24h-4zM2132 1374h4v23h-4zM2136 1378h4v15h-4zM2140 1362h4v39h-4zM2144 1378h4v23h-4zM2148 1362h4v31h-4zM2152 1358h4v35h-4zM2156 1362h4v35h-4zM2160 1374h4v19h-4zM2164 1378h4v23h-4zM2168 1382h4v19h-4zM2172 1378h4v31h-4zM2176 1378h4v19h-4zM2180 1382h3v23h-3zM2183 1378h4v19h-4zM2187 1378h4v15h-4zM2191 1374h4v39h-4zM2195 1378h4v19h-4zM2199 1378h4v15h-4zM2203 1370h4v27h-4zM2207 1382h4v19h-4zM2211 1382h4v15h-4zM2215 1382h4v19h-4z" fill="#000"/>
<path d="M1141 151h47v4h-47zM1141 155h39v4h-39zM1137 159h32v4h-32zM1117 163h20v4h-20zM1145 163h16v4h-16zM1098 167h19v4h-19zM1145 167h8v4h-8zM1078 171h20v4h-20zM1058 175h20v4h-20zM1039 179h19v4h-19zM1019 183h20v4h-20zM999 187h20v4h-20zM980 191h19v4h-19zM960 195h20v4h-20zM940 199h20v4h-20zM929 203h11v3h-11zM932 438h12v4h-12zM944 442h16v4h-16zM960 446h16v4h-16zM976 450h15v4h-15zM991 454h16v4h-16zM1007 458h16v4h-16zM1023 462h16v4h-16zM1039 466h15v4h-15zM1054 470h16v4h-16zM1070 474h16v4h-16zM1086 478h16v4h-16zM1102 482h15v4h-15zM1141 482h4v4h-4zM1117 486h16v3h-16zM1141 486h12v3h-12zM1133 489h28v4h-28zM1137 493h32v4h-32zM1137 497h43v4h-43zM1534 1146h4v4h-4zM1527 1150h7v4h-7zM1519 1154h11v4h-11zM1511 1158h16v4h-16zM1503 1162h24v4h-24zM1499 1166h24v3h-24zM1499 1169h20v4h-20zM1495 1173h20v4h-20zM1491 1177h8v4h-8zM1507 1177h4v4h-4zM1487 1181h8v4h-8zM1483 1185h8v4h-8zM1475 1189h12v4h-12zM1471 1193h8v4h-8zM1467 1197h8v4h-8zM1460 1201h11v4h-11zM1456 1205h8v4h-8zM1452 1209h8v4h-8zM1444 1213h12v4h-12zM1440 1217h8v4h-8zM1436 1221h8v3h-8zM1432 1224h8v4h-8zM1424 1228h12v4h-12zM1420 1232h8v4h-8zM1416 1236h8v4h-8zM1408 1240h12v4h-12zM1405 1244h7v4h-7zM1401 1248h7v4h-7zM1393 1252h12v4h-12zM1389 1256h8v4h-8zM1385 1260h8v4h-8zM1377 1264h12v4h-12zM1373 1268h12v4h-12zM1369 1272h8v4h-8zM1365 1276h8v4h-8zM1357 1280h12v3h-12zM1353 1283h8v4h-8zM1349 1287h8v4h-8zM1342 1291h11v4h-11zM1338 1295h8v4h-8zM1334 1299h8v4h-8zM1326 1303h12v4h-12zM1322 1307h12v4h-12zM1318 1311h8v4h-8zM1314 1315h8v4h-8zM1306 1319h12v4h-12zM1302 1323h8v4h-8zM1298 1327h8v4h-8zM1290 1331h12v4h-12zM1287 1335h7v3h-7zM1283 1338h7v4h-7zM1279 1342h8v4h-8z" fill="#000"/>
</g>
<g font-family="'Liberation Sans', sans-serif" font-size="75.0" fill="#000" filter="url(#soft)"><text transform="translate(285.5 1498.9) scale(1.052 1)" text-anchor="end">0</text><text transform="translate(285.5 1258.9) scale(1.052 1)" text-anchor="end">500</text><text transform="translate(285.5 1023.4) scale(1.052 1)" text-anchor="end">1000</text><text transform="translate(285.5 787.4) scale(1.052 1)" text-anchor="end">1500</text><text transform="translate(285.5 548.2) scale(1.052 1)" text-anchor="end">2000</text><text transform="translate(285.5 311.2) scale(1.052 1)" text-anchor="end">2500</text><text transform="translate(285.5 71.9) scale(1.052 1)" text-anchor="end">3000</text><text transform="translate(321.7 1566) scale(1.052 1)" text-anchor="middle">5</text><text transform="translate(494.1 1566) scale(1.052 1)" text-anchor="middle">10</text><text transform="translate(666.5 1566) scale(1.052 1)" text-anchor="middle">15</text><text transform="translate(838.8 1566) scale(1.052 1)" text-anchor="middle">20</text><text transform="translate(1011.2 1566) scale(1.052 1)" text-anchor="middle">25</text><text transform="translate(1183.6 1566) scale(1.052 1)" text-anchor="middle">30</text><text transform="translate(1356.0 1566) scale(1.052 1)" text-anchor="middle">35</text><text transform="translate(1528.4 1566) scale(1.052 1)" text-anchor="middle">40</text><text transform="translate(1700.8 1566) scale(1.052 1)" text-anchor="middle">45</text><text transform="translate(1873.1 1566) scale(1.052 1)" text-anchor="middle">50</text><text transform="translate(2045.5 1566) scale(1.052 1)" text-anchor="middle">55</text><text transform="translate(2217.9 1566) scale(1.052 1)" text-anchor="middle">60</text><text transform="translate(1270 1684) scale(1.075 1)" text-anchor="middle">2θ(°)</text><text transform="translate(78.5 763) rotate(-90) scale(0.99 1.05)" text-anchor="middle">Intensity(a.u.)</text></g>
<g font-family="'Liberation Sans', sans-serif" fill="#000" filter="url(#soft)"><text transform="translate(1199.5 220.5) scale(1.02 1)" font-size="112">a</text><text transform="translate(1199.3 561.3) scale(1.116 1)" font-size="115">b</text><text transform="translate(1552.6 1204.0) scale(1.09 1)" font-size="114">c</text></g>
</svg>
</body></html>
